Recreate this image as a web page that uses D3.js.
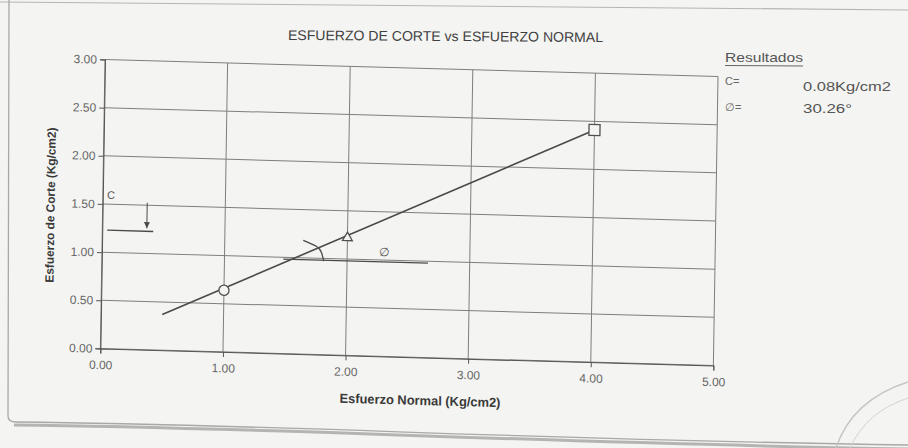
<!DOCTYPE html>
<html><head><meta charset="utf-8">
<script src="https://cdn.jsdelivr.net/npm/d3@7"></script>
<style>
html,body{margin:0;padding:0;background:#f4f4f2;}
svg{display:block;font-family:Arial,"Liberation Sans",sans-serif;}
</style>
</head><body>
<svg id="chart" width="908" height="448"></svg>
<script>
// ---- data ----
const chartTitle = "ESFUERZO DE CORTE vs ESFUERZO NORMAL";
const xAxisTitle = "Esfuerzo Normal (Kg/cm2)";
const yAxisTitle = "Esfuerzo de Corte (Kg/cm2)";
const xTicks = [0, 1, 2, 3, 4, 5];
const yTicks = [0, 0.5, 1, 1.5, 2, 2.5, 3];
const pointX = [1.00, 2.00, 4.00];
const pointY = [0.64, 1.22, 2.41];
const pointSymbols = ["circle", "triangle", "square"];
const fitX = [0.5, 4.0];
const fitY = [0.37, 2.41];
const resultsTitle = "Resultados";
const resultLabels = ["C=", "\u2205="];
const resultValues = ["0.08Kg/cm2", "30.26\u00b0"];
const cLabel = "C";
const cLabelPos = [0.035, 1.555];
const cArrowX = [0.363, 0.363];
const cArrowY = [1.526, 1.262];
const cBaseX = [0.04, 0.416];
const cBaseY = [1.23, 1.23];
const phiLabel = "\u2205";
const phiLabelPos = [2.30, 1.035];
const phiBaseX = [1.48, 2.66];
const phiBaseY = [0.98, 0.98];
const phiArcX = [1.64, 1.75, 1.79, 1.81];
const phiArcY = [1.18, 1.12, 1.06, 0.97];

// ---- drawing ----
const paper = "#f4f4f2";
const svg = d3.select("#chart");
svg.append("rect").attr("width", 908).attr("height", 448).attr("fill", paper);

// page frame (scan)
svg.append("path").attr("d", "M 0 2 L 908 10").attr("stroke", "#b5b5b3").attr("stroke-width", 1.2).attr("fill", "none");
svg.append("path").attr("d", "M 9 0 L 8 416 Q 8 422 16 422 C 300 425, 500 439, 908 445")
  .attr("stroke", "#a8a8a6").attr("stroke-width", 1.3).attr("fill", "none");
svg.append("path").attr("d", "M 14 425 C 300 428, 500 442, 908 449")
  .attr("stroke", "#999997").attr("stroke-width", 3).attr("fill", "none").attr("opacity", 0.7);
// faint stamp
svg.append("path").attr("d", "M 836 448 Q 852 400 908 382").attr("stroke", "#c4c4c2").attr("stroke-width", 1.5).attr("fill", "none");
svg.append("path").attr("d", "M 850 448 Q 866 412 908 398").attr("stroke", "#d2d2d0").attr("stroke-width", 1).attr("fill", "none");

// title
svg.append("text").attr("x", 445.5).attr("y", 41).attr("text-anchor", "middle")
  .attr("font-size", 14).attr("fill", "#404040").attr("textLength", 315).attr("lengthAdjust", "spacingAndGlyphs")
  .attr("transform", "rotate(0.4,445.5,41)")
  .text(chartTitle);

// results box
const rg = svg.append("g").attr("fill", "#555").attr("font-size", 13);
rg.append("text").attr("x", 725).attr("y", 62).attr("textLength", 78).attr("lengthAdjust", "spacingAndGlyphs").text(resultsTitle);
rg.append("line").attr("x1", 725).attr("x2", 803).attr("y1", 65.5).attr("y2", 66).attr("stroke", "#666").attr("stroke-width", 1);
const resBase = [85, 111];
const valBase = [91, 113];
const valLen = [88, 49];
resultLabels.forEach((t, i) => {
  rg.append("text").attr("x", 725).attr("y", resBase[i]).attr("font-size", 11).attr("fill", "#666").text(t);
  rg.append("text").attr("x", 803).attr("y", valBase[i]).attr("textLength", valLen[i]).attr("lengthAdjust", "spacingAndGlyphs").text(resultValues[i]);
});

// plot group with scan skew
const L = 105, T = 59.5, W = 613, H = 289;
const g = svg.append("g")
  .attr("transform", `translate(${L},${T}) matrix(1,0.0278,-0.016,1,0,0) translate(${-L},${-T})`);

const x = d3.scaleLinear().domain([0, 5]).range([L, L + W]);
const y = d3.scaleLinear().domain([0, 3]).range([T + H, T]);

const gridColor = "#7e7e7e";
g.append("g").selectAll("line").data(yTicks).join("line")
  .attr("x1", x(0)).attr("x2", x(5)).attr("y1", d => y(d)).attr("y2", d => y(d))
  .attr("stroke", gridColor).attr("stroke-width", 1);
g.append("g").selectAll("line").data(xTicks).join("line")
  .attr("x1", d => x(d)).attr("x2", d => x(d)).attr("y1", y(0)).attr("y2", y(3))
  .attr("stroke", gridColor).attr("stroke-width", 1);

const fmt = d3.format(".2f");
const yAxis = g.append("g").attr("transform", `translate(${x(0)},0)`)
  .call(d3.axisLeft(y).tickValues(yTicks).tickFormat(fmt).tickSize(5).tickPadding(3));
const xAxis = g.append("g").attr("transform", `translate(0,${y(0)})`)
  .call(d3.axisBottom(x).tickValues(xTicks).tickFormat(fmt).tickSize(5).tickPadding(7));
[yAxis, xAxis].forEach(a => {
  a.select(".domain").attr("stroke", "#555");
  a.selectAll(".tick line").attr("stroke", "#555");
  a.selectAll("text").attr("font-size", 12).attr("fill", "#666").attr("font-family", "Arial, 'Liberation Sans', sans-serif");
});

// axis titles
g.append("text").attr("x", 425.3).attr("y", 396).attr("text-anchor", "middle")
  .attr("font-size", 13).attr("font-weight", "bold").attr("fill", "#3a3a3a")
  .attr("textLength", 161).attr("lengthAdjust", "spacingAndGlyphs").text(xAxisTitle);
g.append("text").attr("transform", "translate(57,206.5) rotate(-90)").attr("text-anchor", "middle")
  .attr("font-size", 12).attr("font-weight", "bold").attr("fill", "#3a3a3a")
  .attr("textLength", 155).attr("lengthAdjust", "spacingAndGlyphs").text(yAxisTitle);

const ink = "#4a4a4a";
const line = d3.line().x(d => x(d[0])).y(d => y(d[1]));

// fit line
g.append("path").attr("d", line(d3.zip(fitX, fitY)))
  .attr("stroke", ink).attr("stroke-width", 1.6).attr("fill", "none");

// C annotation
g.append("path").attr("d", line(d3.zip(cBaseX, cBaseY))).attr("stroke", ink).attr("stroke-width", 1.4).attr("fill", "none");
g.append("path").attr("d", line(d3.zip(cArrowX, cArrowY))).attr("stroke", ink).attr("stroke-width", 1).attr("fill", "none");
{
  const ax = x(cArrowX[1]), ay = y(cArrowY[1]);
  g.append("path").attr("d", `M ${ax - 3} ${ay - 6} L ${ax + 3} ${ay - 6} L ${ax} ${ay} Z`).attr("fill", ink);
}
g.append("text").attr("x", x(cLabelPos[0])).attr("y", y(cLabelPos[1]))
  .attr("font-size", 11).attr("fill", "#555").text(cLabel);

// phi annotation
g.append("path").attr("d", line(d3.zip(phiBaseX, phiBaseY))).attr("stroke", ink).attr("stroke-width", 1.4).attr("fill", "none");
const arcLine = d3.line().x(d => x(d[0])).y(d => y(d[1])).curve(d3.curveNatural);
g.append("path").attr("d", arcLine(d3.zip(phiArcX, phiArcY)))
  .attr("stroke", ink).attr("stroke-width", 1.3).attr("fill", "none");
g.append("text").attr("x", x(phiLabelPos[0])).attr("y", y(phiLabelPos[1])).attr("text-anchor", "middle")
  .attr("font-size", 12).attr("fill", "#555").text(phiLabel);

// markers
const symMap = { circle: d3.symbolCircle, triangle: d3.symbolTriangle, square: d3.symbolSquare };
const symSize = { circle: 80, triangle: 42, square: 121 };
g.append("g").selectAll("path").data(d3.range(pointX.length)).join("path")
  .attr("transform", i => `translate(${x(pointX[i])},${y(pointY[i])})`)
  .attr("d", i => d3.symbol(symMap[pointSymbols[i]], symSize[pointSymbols[i]])())
  .attr("fill", paper).attr("stroke", "#505050").attr("stroke-width", 1.3);
</script>
</body></html>
